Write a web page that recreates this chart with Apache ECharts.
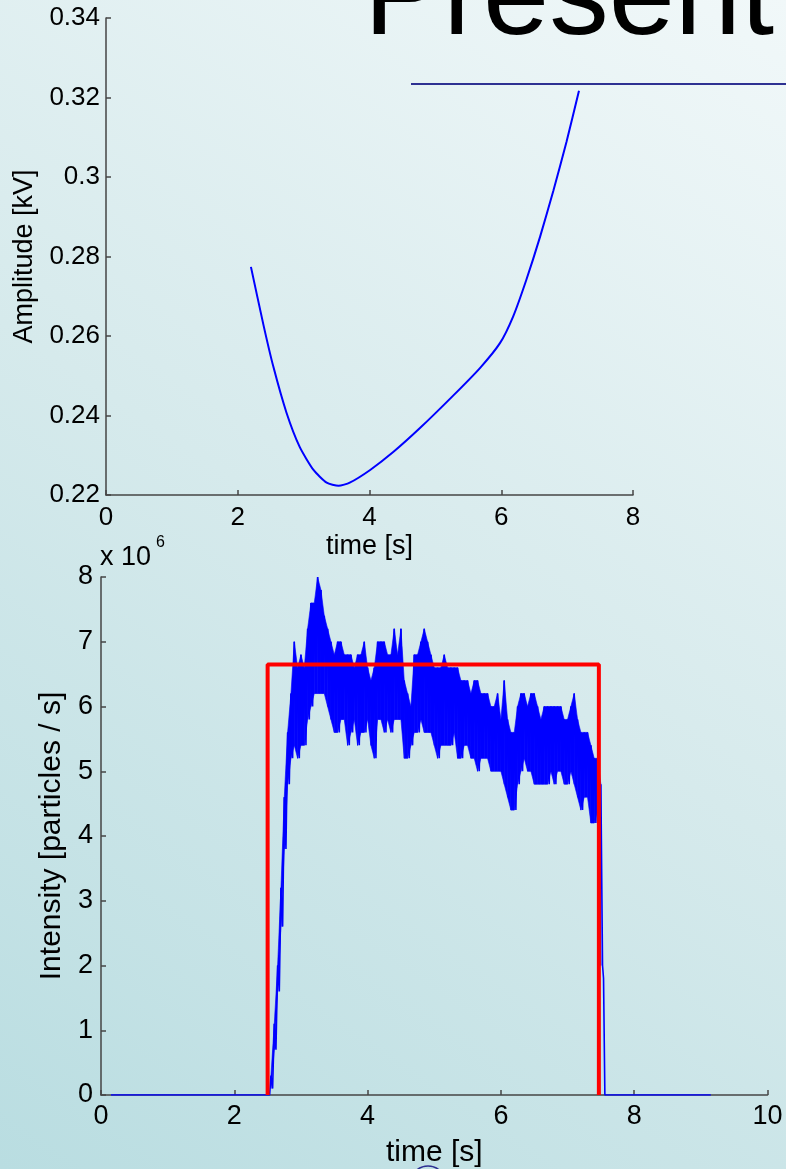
<!DOCTYPE html>
<html>
<head>
<meta charset="utf-8">
<script src="https://cdn.jsdelivr.net/npm/echarts@6/dist/echarts.min.js"></script>
<style>
html,body{margin:0;padding:0;}
#chart{width:786px;height:1169px;}
</style>
</head>
<body>
<div id="chart"></div>
<script>
// ---- Top panel: amplitude vs time ----
const amplitudeTime  = [2.20, 2.39, 2.54, 2.74, 2.94, 3.15, 3.35, 3.53, 3.70, 4.01, 4.36, 4.77, 5.27, 5.68, 5.98, 6.18, 6.38, 6.59, 6.79, 6.99, 7.18];
const amplitudeValue = [0.2774, 0.2628, 0.2523, 0.2407, 0.2321, 0.2263, 0.2231, 0.2223, 0.2231, 0.2263, 0.2308, 0.2369, 0.2450, 0.2520, 0.2582, 0.2649, 0.2741, 0.2850, 0.2965, 0.3088, 0.3217];
const topXTicks = [0, 2, 4, 6, 8];
const topYTicks = [0.22, 0.24, 0.26, 0.28, 0.30, 0.32, 0.34];

// ---- Bottom panel: intensity vs time (x 10^6 particles/s) ----
// sampled every 0.05 s from 2.55 s to 7.50 s: upper and lower edge of the noisy trace
const intensityStart = 2.55, intensityStep = 0.05;
const intensityHigh = [
  0.3, 1.1, 2.0, 3.2, 4.6, 5.6, 6.2, 7.0, 6.6, 6.8,
  6.6, 7.2, 7.6, 7.6, 8.0, 7.8, 7.4, 7.2, 7.0, 6.8,
  7.0, 7.0, 6.8, 6.8, 6.8, 6.6, 6.8, 6.8, 7.0, 6.6,
  6.4, 6.6, 7.0, 7.0, 7.0, 6.8, 6.8, 7.2, 6.8, 7.2,
  6.4, 6.2, 6.0, 6.8, 6.8, 7.0, 7.2, 7.0, 6.8, 6.6,
  6.6, 6.6, 6.8, 6.6, 6.6, 6.6, 6.6, 6.4, 6.4, 6.4,
  6.2, 6.4, 6.4, 6.2, 6.2, 6.2, 6.0, 6.0, 6.2, 5.8,
  6.4, 5.8, 5.6, 5.6, 6.0, 6.2, 6.2, 6.0, 6.2, 6.2,
  6.0, 5.8, 6.0, 6.0, 6.0, 6.0, 6.0, 6.0, 5.8, 5.8,
  6.0, 6.2, 5.8, 5.6, 5.6, 5.6, 5.4, 5.2, 5.2, 4.8
];
const intensityLow = [
  0.1, 0.7, 1.6, 2.6, 3.8, 4.8, 5.2, 5.4, 5.2, 5.4,
  5.4, 5.8, 6.0, 6.2, 6.2, 6.2, 6.2, 6.0, 5.8, 5.6,
  5.6, 5.8, 5.8, 5.4, 5.6, 5.8, 5.4, 5.6, 5.6, 5.8,
  5.4, 5.2, 5.8, 5.8, 5.6, 5.8, 5.6, 5.8, 5.8, 5.8,
  5.2, 5.2, 5.4, 5.6, 5.6, 5.8, 5.6, 5.6, 5.6, 5.4,
  5.2, 5.4, 5.4, 5.4, 5.4, 5.6, 5.2, 5.2, 5.4, 5.4,
  5.2, 5.2, 5.0, 5.2, 5.2, 5.2, 5.0, 5.0, 5.0, 5.0,
  4.8, 4.6, 4.4, 4.4, 4.8, 5.0, 5.2, 5.0, 5.0, 4.8,
  4.8, 4.8, 4.8, 4.8, 5.0, 4.8, 5.0, 5.0, 4.8, 4.8,
  5.0, 4.8, 4.6, 4.4, 4.6, 4.6, 4.2, 4.2, 4.4, 2.0
];
const intensityLeadTime = [0.15, 2.53];
const intensityLeadValue = [0, 0];
const intensityTailTime = [7.54, 7.56, 9.15];
const intensityTailValue = [1.8, 0, 0];
// red reference pulse
const pulseTime  = [2.50, 2.50, 7.47, 7.47];
const pulseValue = [0, 6.65, 6.65, 0];
const bottomXTicks = [0, 2, 4, 6, 8, 10];
const bottomYTicks = [0, 1, 2, 3, 4, 5, 6, 7, 8];

// ---- build series data ----
const amplitudeData = amplitudeTime.map((t, i) => [t, amplitudeValue[i]]);
const intensityData = [];
const bandData = [];
intensityLeadTime.forEach((t, i) => intensityData.push([t, intensityLeadValue[i]]));
intensityHigh.forEach((h, i) => {
  const t = +(intensityStart + i * intensityStep).toFixed(3);
  const tMid = +(t + intensityStep / 2).toFixed(3);
  intensityData.push([t, h]);
  intensityData.push([tMid, intensityLow[i]]);
  bandData.push([t, h, intensityLow[i]]);
});
intensityTailTime.forEach((t, i) => intensityData.push([t, intensityTailValue[i]]));
const pulseData = pulseTime.map((t, i) => [t, pulseValue[i]]);

const FONT = "'Liberation Sans', Arial, Helvetica, sans-serif";
const axisLineStyle = { color: '#454545', width: 1.5 };

function axisCommon(min, max, interval) {
  return {
    min: min, max: max, interval: interval,
    axisLine: { show: true, lineStyle: axisLineStyle },
    axisTick: { show: true, inside: true, length: 5, lineStyle: axisLineStyle },
    splitLine: { show: false }
  };
}

// filled band between upper and lower edge, one quad per sample interval
function renderBand(params, api) {
  const i = params.dataIndex;
  if (i >= bandData.length - 1) return null;
  const a = bandData[i], b = bandData[i + 1];
  const pts = [
    api.coord([a[0], a[1]]), api.coord([b[0], b[1]]),
    api.coord([b[0], b[2]]), api.coord([a[0], a[2]])
  ];
  return {
    type: 'polygon', shape: { points: pts },
    style: { fill: '#0000ff', stroke: '#0000ff', lineWidth: 0.6 }
  };
}

const chart = echarts.init(document.getElementById('chart'), null, { renderer: 'canvas' });
const option = {
  animation: false,
  backgroundColor: {
    type: 'linear', x: 1, y: 0, x2: 0, y2: 1,
    colorStops: [
      { offset: 0, color: '#f1f8f9' },
      { offset: 0.5, color: '#d6eaec' },
      { offset: 1, color: '#b9dde1' }
    ]
  },
  grid: [
    { left: 106, top: 18, width: 527, height: 477 },
    { left: 101, top: 577, width: 666.5, height: 519 }
  ],
  xAxis: [
    Object.assign(axisCommon(topXTicks[0], topXTicks[topXTicks.length - 1], topXTicks[1] - topXTicks[0]), {
      type: 'value', gridIndex: 0, position: 'bottom',
      name: 'time [s]', nameLocation: 'middle', nameGap: 38,
      nameTextStyle: { color: '#000', fontFamily: FONT, fontSize: 27 },
      axisLabel: { color: '#000', fontSize: 26, fontFamily: FONT, margin: 10 }
    }),
    Object.assign(axisCommon(bottomXTicks[0], bottomXTicks[bottomXTicks.length - 1], bottomXTicks[1] - bottomXTicks[0]), {
      type: 'value', gridIndex: 1, position: 'bottom',
      name: 'time [s]', nameLocation: 'middle', nameGap: 43,
      nameTextStyle: { color: '#000', fontFamily: FONT, fontSize: 30 },
      axisLabel: { color: '#000', fontSize: 27, fontFamily: FONT, margin: 8 }
    })
  ],
  yAxis: [
    Object.assign(axisCommon(topYTicks[0], topYTicks[topYTicks.length - 1], 0.02), {
      type: 'value', gridIndex: 0,
      name: 'Amplitude [kV]', nameLocation: 'middle', nameGap: 66, nameRotate: 90,
      nameTextStyle: { color: '#000', fontFamily: FONT, fontSize: 27 },
      axisLabel: { color: '#000', fontSize: 26, fontFamily: FONT, margin: 6,
        formatter: v => String(+v.toFixed(2)) }
    }),
    Object.assign(axisCommon(bottomYTicks[0], bottomYTicks[bottomYTicks.length - 1], 1), {
      type: 'value', gridIndex: 1,
      name: 'Intensity [particles / s]', nameLocation: 'middle', nameGap: 33, nameRotate: 90,
      nameTextStyle: { color: '#000', fontFamily: FONT, fontSize: 30 },
      axisLabel: { color: '#000', fontSize: 27, fontFamily: FONT, margin: 8 }
    })
  ],
  graphic: [
    { type: 'text', left: 364, top: -58, silent: true,
      style: { text: 'Present', font: "119px 'Liberation Sans', Arial, sans-serif", fill: '#000' } },
    { type: 'line', silent: true,
      shape: { x1: 411, y1: 84, x2: 786, y2: 84 },
      style: { stroke: '#2e3192', lineWidth: 2.2 } },
    { type: 'text', left: 100, top: 544, silent: true,
      style: { text: 'x 10', font: "27px 'Liberation Sans', Arial, sans-serif", fill: '#000' } },
    { type: 'text', left: 156, top: 535, silent: true,
      style: { text: '6', font: "16px 'Liberation Sans', Arial, sans-serif", fill: '#000' } },
    { type: 'ellipse', silent: true,
      shape: { cx: 428, cy: 1192, rx: 21, ry: 26 },
      style: { fill: 'none', stroke: '#2e3192', lineWidth: 1.5 } }
  ],
  series: [
    { type: 'line', name: 'Amplitude', xAxisIndex: 0, yAxisIndex: 0,
      data: amplitudeData, smooth: 0.2, showSymbol: false,
      lineStyle: { color: '#0000ff', width: 2 } },
    { type: 'custom', name: 'IntensityBand', xAxisIndex: 1, yAxisIndex: 1,
      data: bandData, encode: { x: 0, y: [1, 2] }, silent: true,
      renderItem: renderBand },
    { type: 'line', name: 'Intensity', xAxisIndex: 1, yAxisIndex: 1,
      data: intensityData, showSymbol: false, sampling: null,
      lineStyle: { color: '#0000ff', width: 1.6 } },
    { type: 'line', name: 'Pulse', xAxisIndex: 1, yAxisIndex: 1,
      data: pulseData, showSymbol: false, z: 5,
      lineStyle: { color: '#ff0000', width: 4 } }
  ]
};
chart.setOption(option);
</script>
</body>
</html>
